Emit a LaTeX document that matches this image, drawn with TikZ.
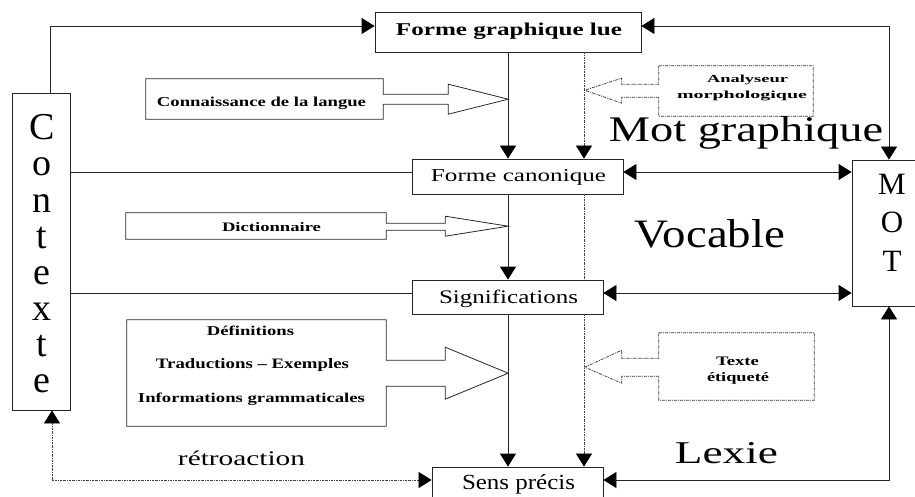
\documentclass[tikz,border=0pt]{standalone}
\usepackage{fontspec}
\setmainfont{Liberation Serif}
\usepackage{graphicx}
\usetikzlibrary{arrows.meta,calc}
\begin{document}
\begin{tikzpicture}[x=1pt,y=-1pt,
  ln/.style={line width=0.8pt,draw=black!85},
  box/.style={ln,rectangle,inner sep=0pt,fill=white},
  ghost/.style={rectangle,inner sep=0pt},
  dotln/.style={line width=0.7pt,draw=black!75,dash pattern=on 2pt off 1pt on 0.6pt off 1pt},
  dashbox/.style={line width=0.7pt,draw=black!80,dash pattern=on 3pt off 1pt on 1pt off 1pt},
  tip/.style={-{Triangle[length=13pt,width=16pt,color=black]}},
  tips/.style={{Triangle[length=13pt,width=16pt,color=black]}-{Triangle[length=13pt,width=16pt,color=black]}},
  txt/.style={inner sep=0pt,anchor=base},
  big/.style={inner sep=0pt,anchor=base,font=\fontsize{38}{38}\selectfont},
  mid/.style={inner sep=0pt,anchor=base,font=\fontsize{31}{31}\selectfont}]
\fill[white] (0,0) rectangle (915,497);
\useasboundingbox (0,0) rectangle (915,497);

% boxes
\node[box,minimum width=266pt,minimum height=40pt] (fgl) at (508,32) {};
\node[box,minimum width=58pt,minimum height=317pt] (ctx) at (41,251.5) {};
\node[ghost,minimum width=237pt,minimum height=40pt] (conn) at (264.5,99) {};
\node[box,minimum width=211pt,minimum height=35pt] (fc) at (517.5,176.5) {};
\node[ghost,minimum width=260pt,minimum height=26pt] (dict) at (256,226) {};
\node[box,minimum width=191pt,minimum height=34pt] (sig) at (507.5,297) {};
\node[ghost,minimum width=259pt,minimum height=106pt] (defs) at (256.5,373) {};
\node[box,minimum width=171pt,minimum height=33pt] (sens) at (517.5,483.5) {};
\node[ghost,minimum width=154pt,minimum height=50pt] (ana) at (736,91) {};
\node[ghost,minimum width=155pt,minimum height=67pt] (tex) at (736.5,366.5) {};
\node[box,minimum width=74pt,minimum height=146pt] (mot) at (889,233) {};

% block arrows (solid)
\draw[ln] (conn.north east) -- (conn.north west) -- (conn.south west) -- (conn.south east)
  -- ++(0,-15) -- ++(65,0) -- ++(0,10) -- ++(60,-15) -- ++(-60,-15) -- ++(0,10) -- ++(-65,0) -- cycle;
\draw[ln] (dict.north east) -- (dict.north west) -- (dict.south west) -- (dict.south east)
  -- ++(0,-9) -- ++(59,0) -- ++(0,6) -- ++(63,-10) -- ++(-63,-10) -- ++(0,7) -- ++(-59,0) -- cycle;
\draw[ln] (defs.north east) -- (defs.north west) -- (defs.south west) -- (defs.south east)
  -- ++(0,-40) -- ++(59,0) -- ++(0,13) -- ++(63,-26) -- ++(-63,-26) -- ++(0,13) -- ++(-59,0) -- cycle;
% block arrows (dash-dot)
\draw[dashbox] (ana.north west) -- (ana.north east) -- (ana.south east) -- (ana.south west)
  -- ++(0,-19) -- ++(-37,0) -- ++(0,6) -- ++(-37,-13) -- ++(37,-12) -- ++(0,6) -- ++(37,0) -- cycle;
\draw[dashbox] (tex.north west) -- (tex.north east) -- (tex.south east) -- (tex.south west)
  -- ++(0,-24) -- ++(-37,0) -- ++(0,7) -- ++(-37,-16) -- ++(37,-17) -- ++(0,8) -- ++(37,0) -- cycle;

% helper coordinates
\coordinate (fglL) at ([yshift=6pt]fgl.west);
\coordinate (fglR) at ([yshift=6pt]fgl.east);
\coordinate (fcL) at ([yshift=4.5pt]fc.west);
\coordinate (fcR) at ([yshift=4.5pt]fc.east);
\coordinate (sigL) at ([yshift=4pt]sig.west);
\coordinate (sigR) at ([yshift=4pt]sig.east);
\coordinate (sensL) at ([yshift=3.5pt]sens.west);
\coordinate (sensR) at ([yshift=3.5pt]sens.east);
\coordinate (dv) at ([xshift=76pt]fgl.south);

% connectors
\draw[ln,tip] ([xshift=9pt]ctx.north) |- (fglL);
\draw[ln,tips] (fglR) -| (mot.north);
\draw[ln] (fcL -| ctx.east) -- (fcL);
\draw[ln,tips] (fcR) -- (fcR -| mot.west);
\draw[ln] (sigL -| ctx.east) -- (sigL);
\draw[ln,tips] (sigR) -- (sigR -| mot.west);
\draw[ln,tips] (sensR) -| (mot.south);
\draw[dotln,tips] ([xshift=11pt]ctx.south) |- (sensL);

\draw[ln,tip] (fgl.south) -- (fgl.south |- fc.north);
\draw[ln,tip] (fgl.south |- fc.south) -- (fgl.south |- sig.north);
\draw[ln,tip] (fgl.south |- sig.south) -- (fgl.south |- sens.north);

\draw[dotln,tip] (dv) -- (dv |- fc.north);
\draw[dotln] (dv |- fc.south) -- (dv |- sig.north);
\draw[dotln,tip] (dv |- sig.south) -- (dv |- sens.north);

% texts
\node[txt] (t1) at (509,36) {\resizebox{226pt}{12.5pt}{\bfseries Forme graphique lue}};
\node[txt] (t2) at (261.5,107) {\resizebox{209pt}{9.5pt}{\bfseries Connaissance de la langue}};
\node[txt] (t3) at (271.5,231) {\resizebox{99pt}{9pt}{\bfseries Dictionnaire}};
\node[txt] (t4) at (518.5,182) {\resizebox{175pt}{12pt}{Forme canonique}};
\node[txt] (t5) at (508.5,303) {\resizebox{139pt}{13.5pt}{Significations}};
\node[txt] (t6) at (250.5,335) {\resizebox{87pt}{9.5pt}{\bfseries Définitions}};
\node[txt] (t7) at (252.5,368) {\resizebox{193pt}{10pt}{\bfseries Traductions – Exemples}};
\node[txt] (t8) at (251.5,402) {\resizebox{227pt}{9.5pt}{\bfseries Informations grammaticales}};
\node[txt] (t9) at (747.5,83) {\resizebox{81pt}{7.5pt}{\bfseries Analyseur}};
\node[txt] (t10) at (742,99) {\resizebox{130pt}{7.5pt}{\bfseries morphologique}};
\node[txt] (t11) at (737.5,365) {\resizebox{43pt}{8.5pt}{\bfseries Texte}};
\node[txt] (t12) at (738,381) {\resizebox{62pt}{9pt}{\bfseries étiqueté}};
\node[txt] (t13) at (518.5,489) {\resizebox{113pt}{15pt}{Sens précis}};
\node[txt] (t14) at (746,142) {\resizebox{274pt}{25pt}{Mot graphique}};
\node[txt] (t15) at (710,247) {\resizebox{150pt}{28pt}{Vocable}};
\node[txt] (t16) at (726.5,463) {\resizebox{103pt}{21pt}{Lexie}};
\node[txt] (t17) at (241.5,465) {\resizebox{127pt}{14.5pt}{rétroaction}};

% vertical words
\foreach \l [count=\i] in {C,o,n,t,e,x,t,e}
  \node[big] (cl\i) at (42,{140+36*(\i-1)}) {\l};
\foreach \l [count=\i] in {M,O,T}
  \node[mid] (ml\i) at (892,{195+38*(\i-1)}) {\l};
\end{tikzpicture}
\end{document}
